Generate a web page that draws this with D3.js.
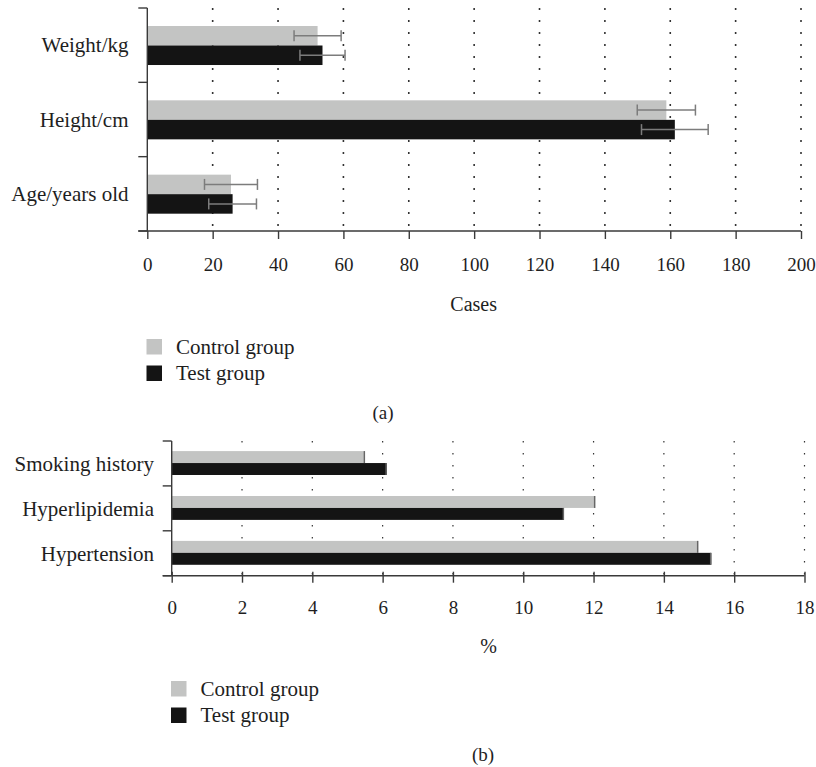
<!DOCTYPE html>
<html>
<head>
<meta charset="utf-8">
<script src="https://cdn.jsdelivr.net/npm/d3@7"></script>
<style>
  html, body { margin: 0; padding: 0; background: #fff; }
  svg text { font-family: "Liberation Serif", "DejaVu Serif", serif; fill: #1e1e1e; }
</style>
</head>
<body>
<svg id="chart" width="816" height="767"></svg>
<script>
// ---------- data ----------
const groups = ["Control group", "Test group"];

// Panel (a)
const catsA = ["Weight/kg", "Height/cm", "Age/years old"];
const controlA = [52.1, 158.8, 25.6];
const controlSdA = [7.2, 8.9, 8.1];
const testA = [53.6, 161.4, 26.1];
const testSdA = [6.9, 10.2, 7.3];
const ticksA = [0, 20, 40, 60, 80, 100, 120, 140, 160, 180, 200];

// Panel (b)
const catsB = ["Smoking history", "Hyperlipidemia", "Hypertension"];
const controlB = [5.5, 12.05, 14.98];
const testB = [6.12, 11.16, 15.35];
const ticksB = [0, 2, 4, 6, 8, 10, 12, 14, 16, 18];

const colors = { "Control group": "#c3c4c3", "Test group": "#141414" };
const axisColor = "#3a3a3a";

const svg = d3.select("#chart");

function panel(cfg) {
  const g = svg.append("g");
  const x = d3.scaleLinear().domain(cfg.domain).range([cfg.left, cfg.right]);
  const y = d3.scaleBand().domain(cfg.cats).range([cfg.top, cfg.bottom]).padding(0);
  const bw = y.bandwidth();
  const sub = d3.scaleBand().domain(groups).range([bw * cfg.inner[0], bw * cfg.inner[1]]).padding(0);

  // gridlines
  g.append("g").selectAll("line").data(cfg.ticks.filter(t => t !== 0)).join("line")
    .attr("x1", d => x(d)).attr("x2", d => x(d))
    .attr("y1", cfg.top).attr("y2", cfg.bottom)
    .attr("stroke", "#333").attr("stroke-width", cfg.gridW)
    .attr("stroke-dasharray", cfg.dash);

  // bars
  const rows = [];
  cfg.cats.forEach((c, i) => {
    rows.push({ cat: c, grp: groups[0], v: cfg.control[i], sd: cfg.controlSd ? cfg.controlSd[i] : null });
    rows.push({ cat: c, grp: groups[1], v: cfg.test[i], sd: cfg.testSd ? cfg.testSd[i] : null });
  });
  g.append("g").selectAll("rect").data(rows).join("rect")
    .attr("x", x(0))
    .attr("y", d => y(d.cat) + sub(d.grp))
    .attr("width", d => x(d.v) - x(0))
    .attr("height", sub.bandwidth())
    .attr("fill", d => colors[d.grp]);

  if (cfg.endCap) {
    g.append("g").selectAll("line").data(rows).join("line")
      .attr("x1", d => x(d.v) - 0.7).attr("x2", d => x(d.v) - 0.7)
      .attr("y1", d => y(d.cat) + sub(d.grp))
      .attr("y2", d => y(d.cat) + sub(d.grp) + sub.bandwidth())
      .attr("stroke", "#666").attr("stroke-width", 1.4);
  }

  // error bars
  if (cfg.controlSd) {
    const eb = g.append("g").attr("stroke", "#7c7c7c").attr("stroke-width", 1.5);
    rows.forEach(d => {
      const cy = y(d.cat) + sub(d.grp) + sub.bandwidth() / 2;
      const x1 = x(d.v - d.sd), x2 = x(d.v + d.sd);
      eb.append("line").attr("x1", x1).attr("x2", x2).attr("y1", cy).attr("y2", cy);
      eb.append("line").attr("x1", x1).attr("x2", x1).attr("y1", cy - 5.5).attr("y2", cy + 5.5);
      eb.append("line").attr("x1", x2).attr("x2", x2).attr("y1", cy - 5.5).attr("y2", cy + 5.5);
    });
  }

  // x axis
  const xa = g.append("g").attr("transform", `translate(0,${cfg.bottom})`)
    .call(d3.axisBottom(x).tickValues(cfg.ticks).tickSizeInner(cfg.tickDown).tickSizeOuter(0).tickPadding(cfg.tickPad));
  xa.select(".domain").remove();
  xa.selectAll(".tick line").attr("stroke", axisColor).attr("stroke-width", 1.4).attr("y1", cfg.tickUp);
  xa.selectAll(".tick text").attr("font-size", 19).attr("fill", "#1e1e1e")
    .style("font-family", '"Liberation Serif", serif');
  g.append("line").attr("x1", cfg.left - 9).attr("x2", cfg.right)
    .attr("y1", cfg.bottom).attr("y2", cfg.bottom)
    .attr("stroke", axisColor).attr("stroke-width", 1.4);

  // y axis
  g.append("line").attr("x1", cfg.left).attr("x2", cfg.left)
    .attr("y1", cfg.top).attr("y2", cfg.bottom)
    .attr("stroke", axisColor).attr("stroke-width", 1.4);
  const bounds = cfg.cats.map(c => y(c)).concat([cfg.bottom]);
  g.append("g").selectAll("line").data(bounds).join("line")
    .attr("x1", cfg.left - 9).attr("x2", cfg.left)
    .attr("y1", d => d).attr("y2", d => d)
    .attr("stroke", axisColor).attr("stroke-width", 1.4);
  g.append("g").selectAll("text").data(cfg.cats).join("text")
    .attr("x", cfg.labelX).attr("y", d => y(d) + bw / 2 + cfg.labelDy)
    .attr("text-anchor", "end").attr("font-size", 21).text(d => d);

  // axis title
  g.append("text").attr("x", cfg.titleX).attr("y", cfg.titleY)
    .attr("text-anchor", "middle").attr("font-size", 20).text(cfg.title);

  // legend
  groups.forEach((gr, i) => {
    g.append("rect").attr("x", cfg.legX).attr("y", cfg.legY + i * 26.5)
      .attr("width", 15.5).attr("height", 15.5).attr("fill", colors[gr]);
    g.append("text").attr("x", cfg.legX + 29.5).attr("y", cfg.legY + i * 26.5 + 14.5)
      .attr("font-size", 21).text(gr);
  });

  // panel label
  g.append("text").attr("x", cfg.panelX).attr("y", cfg.panelY)
    .attr("text-anchor", "middle").attr("font-size", 19).text(cfg.panel);
}

panel({
  cats: catsA, control: controlA, test: testA, controlSd: controlSdA, testSd: testSdA,
  domain: [0, 200], ticks: ticksA, left: 147.3, right: 801, top: 8, bottom: 231,
  inner: [0.242, 0.767], gridW: 1.6, dash: "2,10",
  tickDown: 8, tickUp: 0, tickPad: 18.5,
  labelX: 128.5, labelDy: 7,
  title: "Cases", titleX: 473.7, titleY: 310.5,
  legX: 146.5, legY: 339,
  panel: "(a)", panelX: 383, panelY: 419
});

panel({
  cats: catsB, control: controlB, test: testB,
  domain: [0, 18], ticks: ticksB, left: 171.7, right: 804.5, top: 441, bottom: 575.7,
  inner: [0.225, 0.757], gridW: 1.2, dash: "1.5,10.5",
  tickDown: 7, tickUp: -4, tickPad: 17.5,
  labelX: 154, labelDy: 7.5, endCap: true,
  title: "%", titleX: 488.5, titleY: 653,
  legX: 171, legY: 681,
  panel: "(b)", panelX: 483, panelY: 761
});
</script>
</body>
</html>
